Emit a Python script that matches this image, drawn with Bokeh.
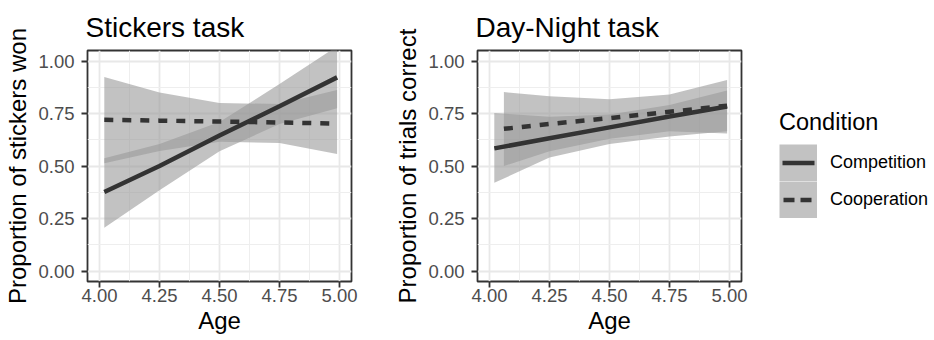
from bokeh.plotting import figure
from bokeh.layouts import row
from bokeh.models import Range1d, FixedTicker, Legend, LegendItem, ColumnDataSource
from bokeh.embed import file_html
from bokeh.resources import INLINE

# ---------------- data ----------------
conditions = ["Competition", "Cooperation"]

x_ticks = [4.00, 4.25, 4.50, 4.75, 5.00]
x_tick_labels = ["4.00", "4.25", "4.50", "4.75", "5.00"]
x_minor = [4.125, 4.375, 4.625, 4.875]
y_ticks = [0.00, 0.25, 0.50, 0.75, 1.00]
y_tick_labels = ["0.00", "0.25", "0.50", "0.75", "1.00"]
y_minor = [0.125, 0.375, 0.625, 0.875]

# Stickers task
stk_comp_age = [4.02, 4.25, 4.50, 4.75, 4.99]
stk_comp_fit = [0.376, 0.500, 0.645, 0.785, 0.922]
stk_comp_upr = [0.537, 0.605, 0.710, 0.890, 1.070]
stk_comp_lwr = [0.206, 0.385, 0.570, 0.700, 0.775]

stk_coop_age = [4.02, 4.25, 4.50, 4.75, 4.99]
stk_coop_fit = [0.720, 0.716, 0.712, 0.707, 0.702]
stk_coop_upr = [0.924, 0.850, 0.800, 0.795, 0.862]
stk_coop_lwr = [0.513, 0.572, 0.615, 0.610, 0.557]

# Day-Night task
dn_comp_age = [4.02, 4.25, 4.50, 4.75, 4.99]
dn_comp_fit = [0.584, 0.632, 0.684, 0.736, 0.783]
dn_comp_upr = [0.752, 0.735, 0.745, 0.790, 0.860]
dn_comp_lwr = [0.420, 0.540, 0.605, 0.640, 0.665]

dn_coop_age = [4.06, 4.25, 4.50, 4.75, 4.99]
dn_coop_fit = [0.677, 0.700, 0.728, 0.758, 0.787]
dn_coop_upr = [0.852, 0.832, 0.818, 0.840, 0.910]
dn_coop_lwr = [0.500, 0.570, 0.630, 0.665, 0.655]

FONT = "Liberation Sans"
LINE_COLOR = "#333333"
BAND_COLOR = "#999999"
BAND_ALPHA = 0.6
TOP, BOTTOM, FW, FH = 50, 59, 264, 231


def make_panel(title, ylabel, series, left, right):
    p = figure(frame_width=FW, frame_height=FH,
               min_border_left=left, min_border_right=right,
               min_border_top=TOP, min_border_bottom=BOTTOM,
               x_range=Range1d(3.95, 5.05), y_range=Range1d(-0.05, 1.05),
               output_backend="svg", toolbar_location=None, title=title)
    p.background_fill_color = "white"
    p.border_fill_color = "white"
    p.outline_line_color = "#333333"
    p.outline_line_width = 1.8

    xax = p.below[0]
    yax = p.left[0]
    xax.ticker = FixedTicker(ticks=x_ticks, minor_ticks=x_minor)
    yax.ticker = FixedTicker(ticks=y_ticks, minor_ticks=y_minor)
    xax.major_label_overrides = {t: l for t, l in zip(x_ticks, x_tick_labels)}
    yax.major_label_overrides = {t: l for t, l in zip(y_ticks, y_tick_labels)}
    xax.axis_label = "Age"
    yax.axis_label = ylabel
    for ax in (xax, yax):
        ax.axis_line_color = None
        ax.major_tick_in = 0
        ax.major_tick_out = 6
        ax.minor_tick_in = 0
        ax.minor_tick_out = 0
        ax.major_tick_line_color = "#333333"
        ax.major_tick_line_width = 1.8
        ax.major_label_text_font = FONT
        ax.major_label_text_font_size = "18.5px"
        ax.major_label_text_color = "#4d4d4d"
        ax.axis_label_text_font = FONT
        ax.axis_label_text_font_size = "24px"
        ax.axis_label_text_font_style = "normal"
        ax.axis_label_text_color = "black"
    xax.major_label_standoff = 1
    xax.axis_label_standoff = 2
    yax.major_label_standoff = 7
    yax.axis_label_standoff = 4

    for g in (p.xgrid, p.ygrid):
        g.grid_line_color = "#e8e8e8"
        g.grid_line_width = 1.8
        g.minor_grid_line_color = "#eeeeee"
        g.minor_grid_line_width = 1.0

    p.title.text_font = FONT
    p.title.text_font_size = "28px"
    p.title.text_font_style = "normal"
    p.title.text_color = "black"
    p.title.align = "left"
    p.title.vertical_align = "top"
    p.title.standoff = 12
    p.title.offset = -2

    for (age, fit, upr, lwr, dash) in series:
        src = ColumnDataSource(dict(age=age, upr=upr, lwr=lwr))
        p.varea(x="age", y1="lwr", y2="upr", source=src,
                fill_color=BAND_COLOR, fill_alpha=BAND_ALPHA)
    for (age, fit, upr, lwr, dash) in series:
        src = ColumnDataSource(dict(age=age, fit=fit))
        p.line(x="age", y="fit", source=src, line_color=LINE_COLOR,
               line_width=4.5, line_dash=dash, line_cap="butt")
    return p


p1 = make_panel("Stickers task", "Proportion of stickers won",
                [(stk_comp_age, stk_comp_fit, stk_comp_upr, stk_comp_lwr, "solid"),
                 (stk_coop_age, stk_coop_fit, stk_coop_upr, stk_coop_lwr, "9 9")],
                87, 40)
p2 = make_panel("Day-Night task", "Proportion of trials correct",
                [(dn_comp_age, dn_comp_fit, dn_comp_upr, dn_comp_lwr, "solid"),
                 (dn_coop_age, dn_coop_fit, dn_coop_upr, dn_coop_lwr, "9 9")],
                84, 10)

# legend panel
p3 = figure(frame_width=185, frame_height=FH, min_border_left=0, min_border_right=0,
            min_border_top=TOP, min_border_bottom=BOTTOM,
            x_range=Range1d(0, 1), y_range=Range1d(0, 1),
            x_axis_type=None, y_axis_type=None,
            output_backend="svg", toolbar_location=None)
p3.outline_line_color = None
p3.grid.visible = False
p3.background_fill_color = "white"
p3.border_fill_color = "white"

# hidden renderers (same series data) that only supply the legend key glyphs
key_src = ColumnDataSource(dict(age=stk_comp_age, fit=stk_comp_fit))
key_bg = p3.line(x="age", y="fit", source=key_src, line_color=BAND_COLOR,
                 line_alpha=BAND_ALPHA, line_width=37, line_cap="butt", visible=False)
key_comp = p3.line(x="age", y="fit", source=key_src, line_color=LINE_COLOR,
                   line_width=4.5, line_dash="0 3 32 3", line_cap="butt", visible=False)
key_coop = p3.line(x="age", y="fit", source=key_src, line_color=LINE_COLOR,
                   line_width=4.5, line_dash="0 4 11 6 11 6", line_cap="butt", visible=False)

legend = Legend(items=[LegendItem(label=conditions[0], renderers=[key_bg, key_comp]),
                       LegendItem(label=conditions[1], renderers=[key_bg, key_coop])],
                location=(28, 63), title="Condition",
                glyph_width=38, glyph_height=37, spacing=0, padding=0, margin=0,
                label_standoff=13, border_line_color=None, background_fill_alpha=0,
                inactive_fill_alpha=0, click_policy="none")
legend.label_text_font = FONT
legend.label_text_font_size = "18px"
legend.label_text_color = "black"
legend.title_text_font = FONT
legend.title_text_font_size = "23.5px"
legend.title_text_font_style = "normal"
legend.title_text_color = "black"
legend.title_standoff = 8
p3.add_layout(legend)

layout = row(p1, p2, p3)
open("out.html", "w").write(file_html(layout, INLINE))
